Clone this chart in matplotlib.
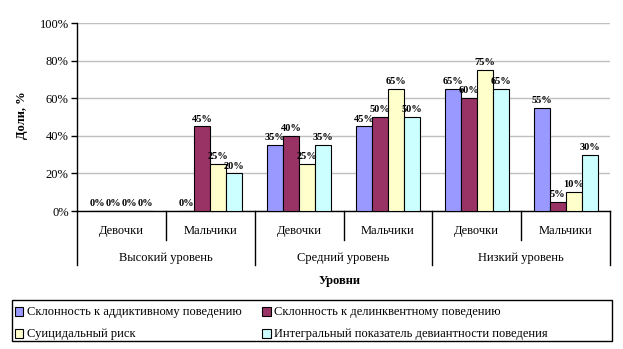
import matplotlib
matplotlib.use("Agg")
import matplotlib.pyplot as plt
import numpy as np
from matplotlib.patches import Patch, Rectangle

plt.rcParams['font.family'] = ['Liberation Serif', 'DejaVu Serif']

subcats = ["Девочки", "Мальчики", "Девочки", "Мальчики", "Девочки", "Мальчики"]
groups = ["Высокий уровень", "Средний уровень", "Низкий уровень"]
series_names = ["Склонность к аддиктивному поведению",
                "Склонность к делинквентному поведению",
                "Суицидальный риск",
                "Интегральный показатель девиантности поведения"]
addictive = [0, 0, 35, 45, 65, 55]
delinquent = [0, 45, 40, 50, 60, 5]
suicidal = [0, 25, 25, 65, 75, 10]
integral = [0, 20, 35, 50, 65, 30]
series = [addictive, delinquent, suicidal, integral]
colors = ["#9999FF", "#993366", "#FFFFCC", "#CCFFFF"]
yticks = [0, 20, 40, 60, 80, 100]

fig = plt.figure(figsize=(6.23, 3.49), dpi=100)
ax = fig.add_axes([77/623, 1-211/349, (610-77)/623, (211-23)/349])

n = len(subcats)
x = np.arange(n)
bw = 0.18
for i, (vals, c) in enumerate(zip(series, colors)):
    pos = x + (i - 1.5) * bw
    ax.bar(pos, vals, width=bw, color=c, edgecolor='black', linewidth=0.8, zorder=3)
    for p, v in zip(pos, vals):
        ax.annotate(f"{v}%", (p, v), xytext=(0, 2), textcoords='offset points',
                    ha='center', va='bottom', fontsize=7.5, fontweight='bold', zorder=4)

ax.set_xlim(-0.5, n - 0.5)
ax.set_ylim(0, 100)
ax.set_yticks(yticks)
ax.set_yticklabels([f"{t}%" for t in yticks], fontsize=9)
ax.yaxis.grid(True, color='#C0C0C0', linewidth=1)
ax.set_axisbelow(True)
ax.set_xticks([])
for s in ['top', 'right']:
    ax.spines[s].set_visible(False)
ax.spines['left'].set_linewidth(1)
ax.spines['bottom'].set_linewidth(1)
ax.tick_params(axis='y', length=4, width=1, pad=2)

tr = ax.get_xaxis_transform()
h_ax = 188.0
row1 = -(240 - 211) / h_ax
row2 = -(265 - 211) / h_ax
for k in range(n + 1):
    xb = k - 0.5
    yend = row2 if k % 2 == 0 else row1
    ax.plot([xb, xb], [0, yend], transform=tr, color='black', lw=1, clip_on=False)
for k, lab in enumerate(subcats):
    ax.text(k, -(231 - 211) / h_ax, lab, transform=tr, ha='center', va='center', fontsize=9)
for g, lab in enumerate(groups):
    ax.text(2 * g + 0.5, -(258 - 211) / h_ax, lab, transform=tr, ha='center', va='center', fontsize=9)

fig.text(340/623, 1 - 281/349, "Уровни", ha='center', va='center', fontsize=9, fontweight='bold')
fig.text(22/623, 1 - 115/349, "Доли, %", ha='center', va='center', fontsize=9,
         fontweight='bold', rotation=90)

# legend frame
fig.add_artist(Rectangle((12/623, 1 - 341/349), 600/623, 41/349, transform=fig.transFigure,
                         facecolor='white', edgecolor='black', linewidth=1, zorder=1))
handles = [Patch(facecolor=c, edgecolor='black', linewidth=0.8) for c in colors]
order = [0, 2, 1, 3]
leg = fig.legend([handles[i] for i in order], [series_names[i] for i in order],
                 loc='upper left', bbox_to_anchor=(12/623, 1 - 304/349),
                 ncol=2, fontsize=9, frameon=False,
                 handlelength=0.7, handleheight=0.7, handletextpad=0.3,
                 borderaxespad=0, borderpad=0.2, labelspacing=0.8, columnspacing=1.6)
leg.set_zorder(2)

fig.savefig("out.png", dpi=100)
